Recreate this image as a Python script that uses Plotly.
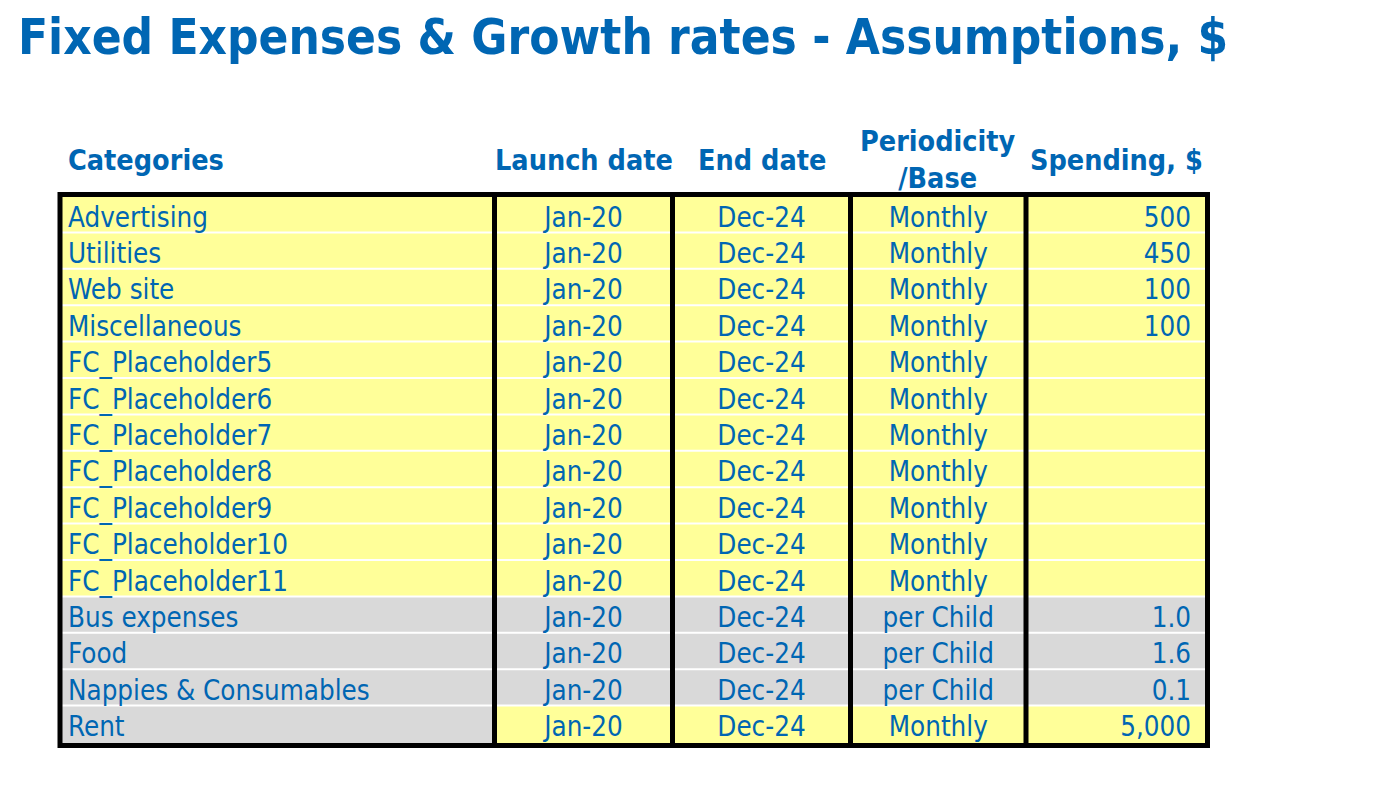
import plotly.graph_objects as go

# ---------------- data ----------------
title_text = "Fixed Expenses & Growth rates - Assumptions, $"
headers = ["Categories", "Launch date", "End date", "Periodicity<br>/Base", "Spending, $"]
categories = ["Advertising", "Utilities", "Web site", "Miscellaneous",
              "FC_Placeholder5", "FC_Placeholder6", "FC_Placeholder7",
              "FC_Placeholder8", "FC_Placeholder9", "FC_Placeholder10",
              "FC_Placeholder11", "Bus expenses", "Food",
              "Nappies & Consumables", "Rent"]
launch_dates = ["Jan-20"] * 15
end_dates = ["Dec-24"] * 15
periodicity = ["Monthly"] * 11 + ["per Child", "per Child", "per Child", "Monthly"]
spending = ["500", "450", "100", "100", "", "", "", "", "", "", "",
            "1.0", "1.6", "0.1", "5,000"]
# cell kind: "in" = input (yellow), "calc" = calculated (grey)
category_kind = ["in"] * 11 + ["calc", "calc", "calc", "calc"]
value_kind = ["in"] * 11 + ["calc", "calc", "calc", "in"]

# ---------------- styling / geometry ----------------
W, H = 1396, 786
PAGE_MARGIN = 8  # default html body margin
BLUE = "#0066B3"
YELLOW = "#FFFF99"
GREY = "#D9D9D9"
FONT = "DejaVu Sans Condensed, DejaVu Sans, Verdana, sans-serif"
col_edges = [60, 494.5, 672.5, 850.5, 1026, 1207.5]
row_top = 197.0
row_bottom = 743.0
n = len(categories)
row_h = (row_bottom - row_top) / n
fills = {"in": YELLOW, "calc": GREY}

fig = go.Figure()
shapes = []

# cell fills
for i in range(n):
    y0 = row_top + i * row_h
    y1 = y0 + row_h - (2 if i < n - 1 else 0)
    for c in range(5):
        kind = category_kind[i] if c == 0 else value_kind[i]
        shapes.append(dict(type="rect", xref="x", yref="y",
                           x0=col_edges[c], x1=col_edges[c + 1], y0=y0, y1=y1,
                           fillcolor=fills[kind], line=dict(width=0), layer="below"))

# inner thick vertical lines
for xe in col_edges[1:-1]:
    shapes.append(dict(type="line", xref="x", yref="y", x0=xe, x1=xe,
                       y0=row_top - 3, y1=row_bottom + 3,
                       line=dict(color="black", width=5)))
# outer border
shapes.append(dict(type="rect", xref="x", yref="y",
                   x0=col_edges[0], x1=col_edges[-1],
                   y0=row_top - 2.5, y1=row_bottom + 2.5,
                   line=dict(color="black", width=5)))

ys = [row_top + (i + 0.5) * row_h + 4.5 for i in range(n)]
cell_font = dict(family=FONT, size=27.5, color=BLUE)

fig.add_trace(go.Scatter(x=[68] * n, y=ys, text=categories, mode="text",
                         textposition="middle right", textfont=cell_font,
                         hoverinfo="skip"))
for c, vals in [(1, launch_dates), (2, end_dates), (3, periodicity)]:
    cx = (col_edges[c] + col_edges[c + 1]) / 2
    fig.add_trace(go.Scatter(x=[cx] * n, y=ys, text=vals, mode="text",
                             textposition="middle center", textfont=cell_font,
                             hoverinfo="skip"))
fig.add_trace(go.Scatter(x=[1191] * n, y=ys, text=spending, mode="text",
                         textposition="middle left", textfont=cell_font,
                         hoverinfo="skip"))

annotations = []
head_font = dict(family=FONT, size=28.5, color=BLUE)
annotations.append(dict(x=66, y=160, xref="x", yref="y", text="<b>" + headers[0] + "</b>",
                        showarrow=False, xanchor="left", yanchor="middle", font=head_font))
for c in range(1, 5):
    cx = (col_edges[c] + col_edges[c + 1]) / 2
    annotations.append(dict(x=cx, y=160, xref="x", yref="y",
                            text="<b>" + headers[c] + "</b>",
                            showarrow=False, xanchor="center", yanchor="middle",
                            font=head_font))
annotations.append(dict(x=16, y=37, xref="x", yref="y", text="<b>" + title_text + "</b>",
                        showarrow=False, xanchor="left", yanchor="middle",
                        font=dict(family=FONT, size=49, color=BLUE)))

fig.update_layout(
    width=W - 2 * PAGE_MARGIN, height=H - 2 * PAGE_MARGIN,
    margin=dict(l=0, r=0, t=0, b=0),
    paper_bgcolor="white", plot_bgcolor="white", showlegend=False,
    xaxis=dict(range=[PAGE_MARGIN, W - PAGE_MARGIN], visible=False, fixedrange=True),
    yaxis=dict(range=[H - PAGE_MARGIN, PAGE_MARGIN], visible=False, fixedrange=True),
    shapes=shapes, annotations=annotations,
)
fig.write_html("out.html")
